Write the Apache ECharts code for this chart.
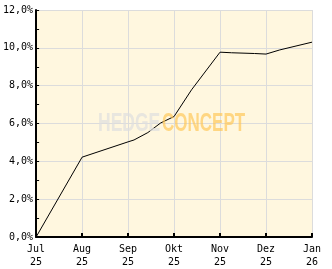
<!DOCTYPE html>
<html><head><meta charset="utf-8">
<script src="https://cdn.jsdelivr.net/npm/echarts@6/dist/echarts.min.js"></script>
<style>html,body{margin:0;padding:0;background:#fff}#c{width:332px;height:269px}</style>
</head><body><div id="c"></div>
<script>
// x positions in months since Jul 2025 (0 = 1 Jul 2025)
const monthLabels = ['Jul\n25','Aug\n25','Sep\n25','Okt\n25','Nov\n25','Dez\n25','Jan\n26'];
const xPos   = [0, 1, 2, 2.13, 2.43, 2.71, 3.0, 3.38, 4.0, 4.25, 4.75, 5.0, 5.3, 6.0];
const perf   = [0, 4.22, 5.03, 5.13, 5.52, 6.03, 6.37, 7.78, 9.77, 9.74, 9.70, 9.67, 9.89, 10.3];
const yTicks = [0, 2, 4, 6, 8, 10, 12];

const chart = echarts.init(document.getElementById('c'), null, {renderer:'canvas'});
const font = 'DejaVu Sans Mono';
chart.setOption({
  animation: false,
  grid: {left:36, top:10, right:20, bottom:32, show:true, backgroundColor:'#FFF7DF', borderWidth:0},
  xAxis: {
    type:'value', min:0, max:monthLabels.length-1, interval:1,
    axisLine:{show:true, onZero:false, lineStyle:{color:'#000', width:2}},
    axisTick:{show:true, inside:true, length:4, lineStyle:{color:'#000', width:2}},
    splitLine:{show:true, lineStyle:{color:'#DCDCDC', width:1}},
    axisLabel:{fontFamily:font, fontSize:10, color:'#000', margin:6, lineHeight:13,
      formatter: v => monthLabels[Math.round(v)] || ''}
  },
  yAxis: {
    type:'value', min:yTicks[0], max:yTicks[yTicks.length-1], interval:2,
    axisLine:{show:true, lineStyle:{color:'#000', width:2}},
    axisTick:{show:true, inside:true, length:3, lineStyle:{color:'#000', width:1}},
    minorTick:{show:true, splitNumber:2, length:3, lineStyle:{color:'#000', width:1}},
    splitLine:{show:true, lineStyle:{color:'#DCDCDC', width:1}},
    axisLabel:{fontFamily:font, fontSize:10, color:'#000', margin:3,
      formatter: v => v.toFixed(1).replace('.', ',') + '%'}
  },
  series: [{
    type:'line', data: xPos.map((x,i)=>[x, perf[i]]), symbol:'none',
    lineStyle:{color:'#000', width:1}, z:2
  }],
  graphic: [
    {type:'text', x:98, y:124.5, scaleX:0.7, z:100,
     style:{text:'HEDGE', fontFamily:'Liberation Sans', fontWeight:'bold', fontSize:25,
            textVerticalAlign:'middle', fill:'rgba(222,222,222,0.7)'}},
    {type:'text', x:162, y:124.5, scaleX:0.68, z:100,
     style:{text:'CONCEPT', fontFamily:'Liberation Sans', fontWeight:'bold', fontSize:25,
            textVerticalAlign:'middle', fill:'rgba(255,196,80,0.65)'}}
  ]
});
</script></body></html>
